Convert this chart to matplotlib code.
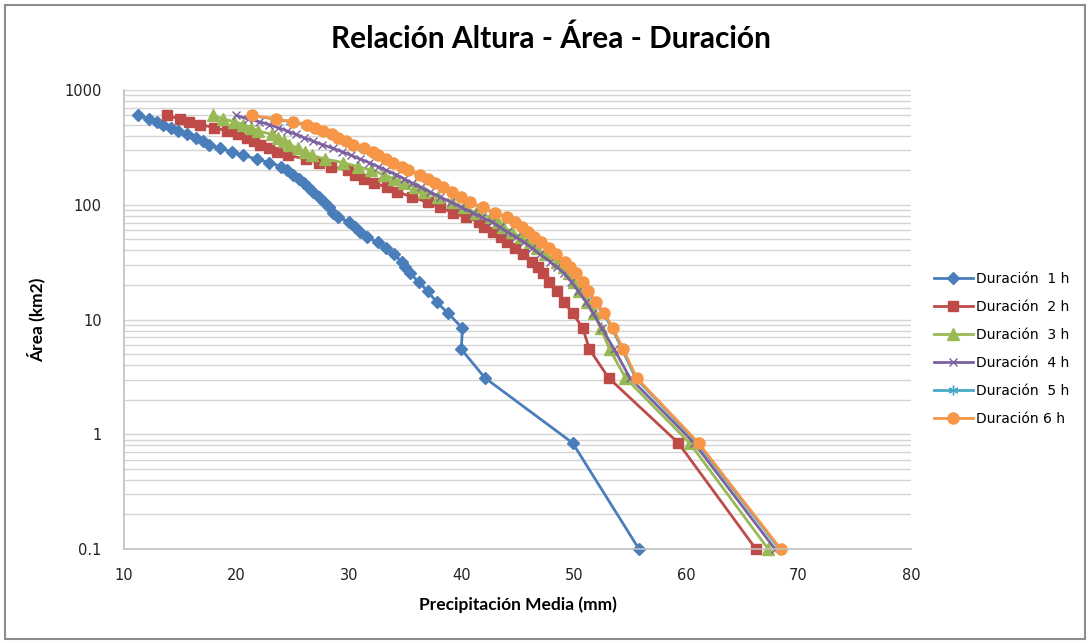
import matplotlib
matplotlib.use("Agg")
import matplotlib.pyplot as plt
import matplotlib.patches as patches
from matplotlib.ticker import FixedLocator, FixedFormatter, LogLocator, NullFormatter

# Area (km2), shared by every duration
area = [600, 560, 530, 500, 470, 440, 410, 385, 360, 335, 310, 290, 270, 250,
        233, 215, 200, 183, 168, 155, 142, 130, 117, 105, 95, 85, 78, 71, 64,
        58, 52, 47, 42, 37, 32, 28.6, 25.5, 21.3, 17.7, 14.2, 11.4, 8.4, 5.5,
        3.1, 0.84, 0.1]

# Mean precipitation (mm) per duration
dur_1h = [11.2, 12.2, 12.9, 13.5, 14.2, 14.8, 15.6, 16.4, 17.0, 17.6, 18.5, 19.6,
          20.6, 21.8, 22.9, 24.0, 24.5, 25.0, 25.6, 26.0, 26.4, 26.8, 27.3, 27.8,
          28.2, 28.6, 29.0, 30.0, 30.5, 31.0, 31.6, 32.6, 33.3, 34.0, 34.7, 35.0,
          35.4, 36.2, 37.0, 37.8, 38.8, 40.1, 40.0, 42.1, 49.9, 55.8]
dur_2h = [13.8, 15.0, 15.8, 16.8, 18.0, 19.2, 20.1, 20.9, 21.6, 22.1, 22.9, 23.6,
          24.6, 26.2, 27.3, 28.4, 29.9, 30.5, 31.3, 32.2, 33.4, 34.3, 35.6, 37.0,
          38.1, 39.3, 40.4, 41.6, 42.0, 42.8, 43.5, 44.1, 44.8, 45.5, 46.3, 46.8,
          47.3, 47.8, 48.5, 49.1, 49.9, 50.8, 51.4, 53.1, 59.3, 66.2]
dur_3h = [17.9, 18.8, 19.8, 20.6, 21.3, 21.9, 23.2, 23.7, 24.2, 24.7, 25.5, 26.1,
          26.7, 27.9, 29.5, 30.8, 32.0, 33.1, 34.0, 34.9, 35.9, 36.7, 37.9, 39.2,
          40.2, 41.3, 42.6, 43.3, 43.7, 44.5, 45.3, 46.1, 46.7, 47.4, 48.5, 49.1,
          49.6, 50.0, 50.5, 51.2, 51.8, 52.4, 53.2, 54.6, 60.3, 67.3]
dur_4h = [20.0, 21.0, 22.0, 22.9, 23.7, 24.5, 25.3, 26.0, 26.8, 27.6, 28.6, 29.4,
          30.2, 31.0, 31.8, 32.6, 33.3, 34.2, 34.9, 35.6, 36.4, 37.2, 38.1, 39.1,
          40.0, 41.0, 41.8, 42.7, 43.4, 44.1, 44.9, 45.6, 46.3, 47.0, 47.9, 48.5,
          49.1, 49.8, 50.4, 51.1, 51.7, 52.5, 53.6, 55.0, 60.7, 67.9]
dur_5h = [21.3, 23.3, 24.8, 26.1, 26.8, 27.5, 28.3, 28.9, 29.6, 30.3, 31.2, 32.0,
          32.5, 33.2, 33.8, 34.6, 35.2, 36.2, 36.9, 37.6, 38.3, 39.1, 39.9, 40.7,
          41.8, 42.9, 44.0, 44.7, 45.3, 45.8, 46.4, 47.0, 47.7, 48.3, 49.1, 49.6,
          50.1, 50.7, 51.2, 51.9, 52.6, 53.4, 54.3, 55.5, 61.0, 68.3]
dur_6h = [21.4, 23.5, 25.0, 26.3, 27.0, 27.7, 28.5, 29.0, 29.7, 30.4, 31.3, 32.1,
          32.6, 33.3, 33.9, 34.7, 35.3, 36.3, 37.0, 37.7, 38.4, 39.2, 40.0, 40.8,
          41.9, 43.0, 44.1, 44.8, 45.4, 45.9, 46.5, 47.1, 47.8, 48.4, 49.2, 49.7,
          50.2, 50.8, 51.3, 52.0, 52.7, 53.5, 54.4, 55.6, 61.1, 68.4]

labels = ["Duración  1 h", "Duración  2 h", "Duración  3 h",
          "Duración  4 h", "Duración  5 h", "Duración 6 h"]
y_ticks = [0.1, 1, 10, 100, 1000]
y_tick_labels = ["0.1", "1", "10", "100", "1000"]

fig = plt.figure(figsize=(10.9, 6.43), dpi=100)
ax = fig.add_axes([0.1138, 0.1462, 0.722, 0.7138])

styles = [
    ("#4A7EBB", "D", 6, dur_1h),
    ("#BE4B48", "s", 7.5, dur_2h),
    ("#98B954", "^", 8, dur_3h),
    ("#7D60A0", "x", 6, dur_4h),
    ("#46AAC5", (6, 2, 0), 7, dur_5h),
    ("#F79646", "o", 8, dur_6h),
]
for (color, marker, ms, xs), lab in zip(styles, labels):
    ax.plot(xs, area, color=color, marker=marker, markersize=ms, lw=2,
            markeredgecolor=color, label=lab, clip_on=False)

ax.set_yscale("log")
ax.set_xlim(10, 80)
ax.set_ylim(0.1, 1000)
ax.yaxis.set_major_locator(FixedLocator(y_ticks))
ax.yaxis.set_major_formatter(FixedFormatter(y_tick_labels))
ax.yaxis.set_minor_locator(LogLocator(base=10, subs=range(2, 10)))
ax.yaxis.set_minor_formatter(NullFormatter())
ax.set_xticks(range(10, 81, 10))

ax.grid(True, which="both", axis="y", color="#D4D4D4", lw=1)
ax.set_axisbelow(True)
for side in ["top", "right"]:
    ax.spines[side].set_visible(False)
for side in ["left", "bottom"]:
    ax.spines[side].set_color("#BFBFBF")
    ax.spines[side].set_linewidth(1.2)
ax.tick_params(which="both", length=0, labelsize=10.5, colors="#222222")
ax.tick_params(axis="y", pad=16)
ax.tick_params(axis="x", pad=14)

ax.set_xlabel("Precipitación Media (mm)", fontsize=12.5, fontweight="bold",
              family="Lato", labelpad=9)
ax.set_ylabel("Área (km2)", fontsize=12.5, fontweight="bold",
              family="Lato", labelpad=14)
fig.text(0.505, 0.94, "Relación Altura - Área - Duración", ha="center",
         va="center", fontsize=21.5, fontweight="bold", family="Lato")

ax.legend(loc="center left", bbox_to_anchor=(1.013, 0.436), frameon=False,
          fontsize=10, handlelength=2.8, handletextpad=0.25, labelspacing=1.0)

fig.patches.append(patches.Rectangle((0.005, 0.006), 0.99, 0.986,
                                     transform=fig.transFigure, fill=False,
                                     edgecolor="#8C8C8C", lw=1.5))

fig.savefig("out.png", dpi=100)
